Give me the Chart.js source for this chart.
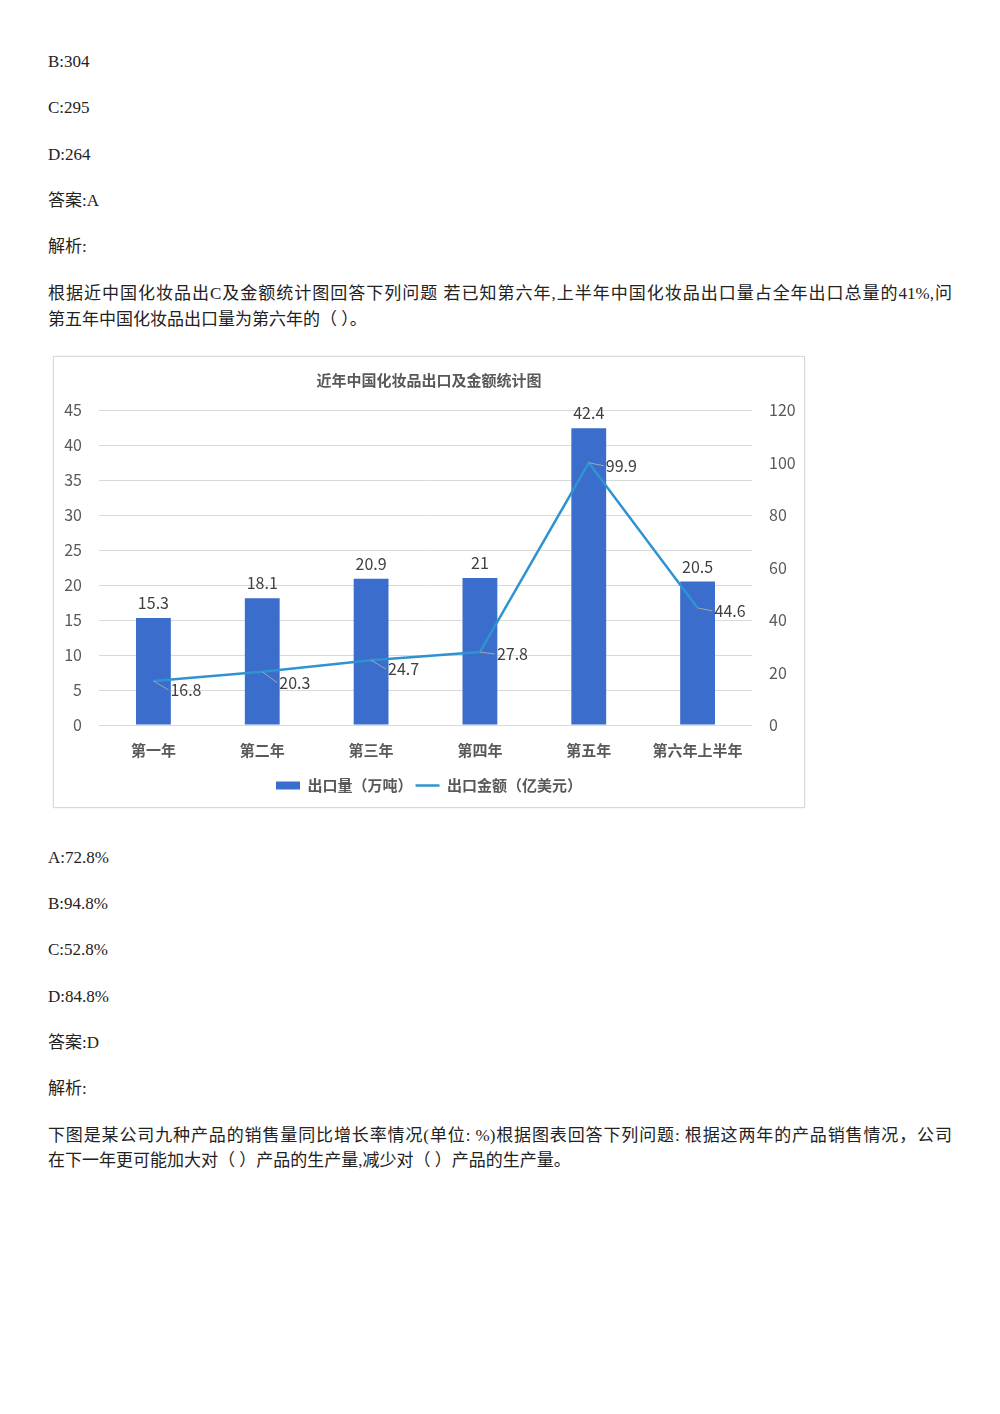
<!DOCTYPE html>
<html>
<head>
<meta charset="utf-8">
<script src="https://cdn.jsdelivr.net/npm/chart.js@4"></script>
<style>
  body { margin: 0; background: #fff; width: 1000px; height: 1414px; position: relative;
         font-family: "Liberation Serif", "Noto Sans CJK SC", serif; color: #222; }
  .ln { position: absolute; left: 48px; font-size: 17px; line-height: 20px; white-space: nowrap; }
  .just { width: 904px; text-align: justify; text-align-last: justify; }
  #box { position: absolute; left: 53px; top: 356px; width: 750px; height: 450px;
         border: 1px solid #d9d9d9; box-shadow: 0 0 2px #e6e6e6; }
  #box canvas { display: block; }
</style>
</head>
<body>
<div class="ln" style="top:52px">B:304</div>
<div class="ln" style="top:98px">C:295</div>
<div class="ln" style="top:145px">D:264</div>
<div class="ln" style="top:191px">答案:A</div>
<div class="ln" style="top:237px">解析:</div>
<div class="ln just" style="top:284px">根据近中国化妆品出C及金额统计图回答下列问题 若已知第六年,上半年中国化妆品出口量占全年出口总量的41%,问</div>
<div class="ln" style="top:310px">第五年中国化妆品出口量为第六年的（ ）。</div>

<div id="box"><canvas id="chart" width="750" height="450"></canvas></div>

<div class="ln" style="top:848px">A:72.8%</div>
<div class="ln" style="top:894px">B:94.8%</div>
<div class="ln" style="top:940px">C:52.8%</div>
<div class="ln" style="top:987px">D:84.8%</div>
<div class="ln" style="top:1033px">答案:D</div>
<div class="ln" style="top:1079px">解析:</div>
<div class="ln just" style="top:1126px">下图是某公司九种产品的销售量同比增长率情况(单位: %)根据图表回答下列问题: 根据这两年的产品销售情况，公司</div>
<div class="ln" style="top:1151px">在下一年更可能加大对（ ）产品的生产量,减少对（ ）产品的生产量。</div>

<script>
// chart data
const years = ["第一年", "第二年", "第三年", "第四年", "第五年", "第六年上半年"];
const exportVolume = [15.3, 18.1, 20.9, 21, 42.4, 20.5];   // 万吨
const exportValue = [16.8, 20.3, 24.7, 27.8, 99.9, 44.6];  // 亿美元

const barColor = "#3b6dcc";
const lineColor = "#2f93d1";
const textColor = "#595959";
const font = '"Noto Sans CJK SC", "Open Sans", sans-serif';

// little nudges for the line labels, like the original layout
const lineLabelDy = [9, 11, 9, 2, 3, 3];

const valueLabels = {
  id: "valueLabels",
  afterDatasetsDraw(chart) {
    const ctx = chart.ctx;
    ctx.save();
    ctx.font = "16px " + font;
    ctx.fillStyle = "#404040";

    // bar labels above bars
    chart.getDatasetMeta(0).data.forEach((bar, i) => {
      ctx.textAlign = "center";
      ctx.textBaseline = "bottom";
      ctx.fillText(String(exportVolume[i]), bar.x, bar.y - 7);
    });

    // line labels to the right of points, with a short leader
    chart.getDatasetMeta(1).data.forEach((pt, i) => {
      const lx = pt.x + 17;
      const ly = pt.y + lineLabelDy[i];
      ctx.strokeStyle = "#a6a6a6";
      ctx.lineWidth = 1;
      ctx.beginPath();
      ctx.moveTo(pt.x, pt.y);
      ctx.lineTo(lx - 2, ly);
      ctx.stroke();
      ctx.textAlign = "left";
      ctx.textBaseline = "middle";
      ctx.fillText(String(exportValue[i]), lx, ly);
    });
    ctx.restore();
  }
};

const ctx = document.getElementById("chart").getContext("2d");

new Chart(ctx, {
  type: "bar",
  data: {
    labels: years,
    datasets: [
      {
        label: "出口量（万吨）",
        data: exportVolume,
        backgroundColor: barColor,
        yAxisID: "y",
        order: 2,
        categoryPercentage: 1,
        barPercentage: 0.32
      },
      {
        type: "line",
        label: "出口金额（亿美元）",
        data: exportValue,
        borderColor: lineColor,
        backgroundColor: lineColor,
        borderWidth: 2.5,
        pointRadius: 0,
        tension: 0,
        yAxisID: "y1",
        order: 1
      }
    ]
  },
  options: {
    responsive: false,
    animation: false,
    layout: { padding: { top: 4, left: 0, right: 0, bottom: 4 } },
    plugins: {
      title: {
        display: true,
        text: "近年中国化妆品出口及金额统计图",
        color: textColor,
        font: { family: font, size: 15, weight: "bold" },
        padding: { top: 10, bottom: 21 }
      },
      legend: {
        position: "bottom",
        labels: {
          color: textColor,
          font: { family: font, size: 15, weight: "bold" },
          usePointStyle: true,
          pointStyleWidth: 24,
          boxWidth: 24,
          boxHeight: 8,
          padding: 3,
          generateLabels(chart) {
            const items = Chart.defaults.plugins.legend.labels.generateLabels(chart);
            items.sort((a, b) => a.datasetIndex - b.datasetIndex);
            items[0].pointStyle = "rect";
            items[0].lineWidth = 0;
            items[1].pointStyle = "line";
            items[1].strokeStyle = lineColor;
            items[1].lineWidth = 2.5;
            return items;
          }
        }
      },
      tooltip: { enabled: false }
    },
    scales: {
      x: {
        grid: { display: false, drawTicks: false },
        border: { display: false },
        ticks: { color: textColor, font: { family: font, size: 15, weight: "bold" }, padding: 16, maxRotation: 0 }
      },
      y: {
        position: "left",
        min: 0,
        max: 45,
        ticks: { stepSize: 5, color: textColor, font: { family: font, size: 16 }, padding: 17 },
        grid: { color: "#d9d9d9", drawTicks: false },
        border: { display: false },
        afterFit(scale) { scale.width = 45; }
      },
      y1: {
        position: "right",
        min: 0,
        max: 120,
        ticks: { stepSize: 20, color: textColor, font: { family: font, size: 16 }, padding: 17 },
        grid: { display: false, drawTicks: false },
        border: { display: false },
        afterFit(scale) { scale.width = 52; }
      }
    }
  },
  plugins: [valueLabels]
});
</script>
</body>
</html>
